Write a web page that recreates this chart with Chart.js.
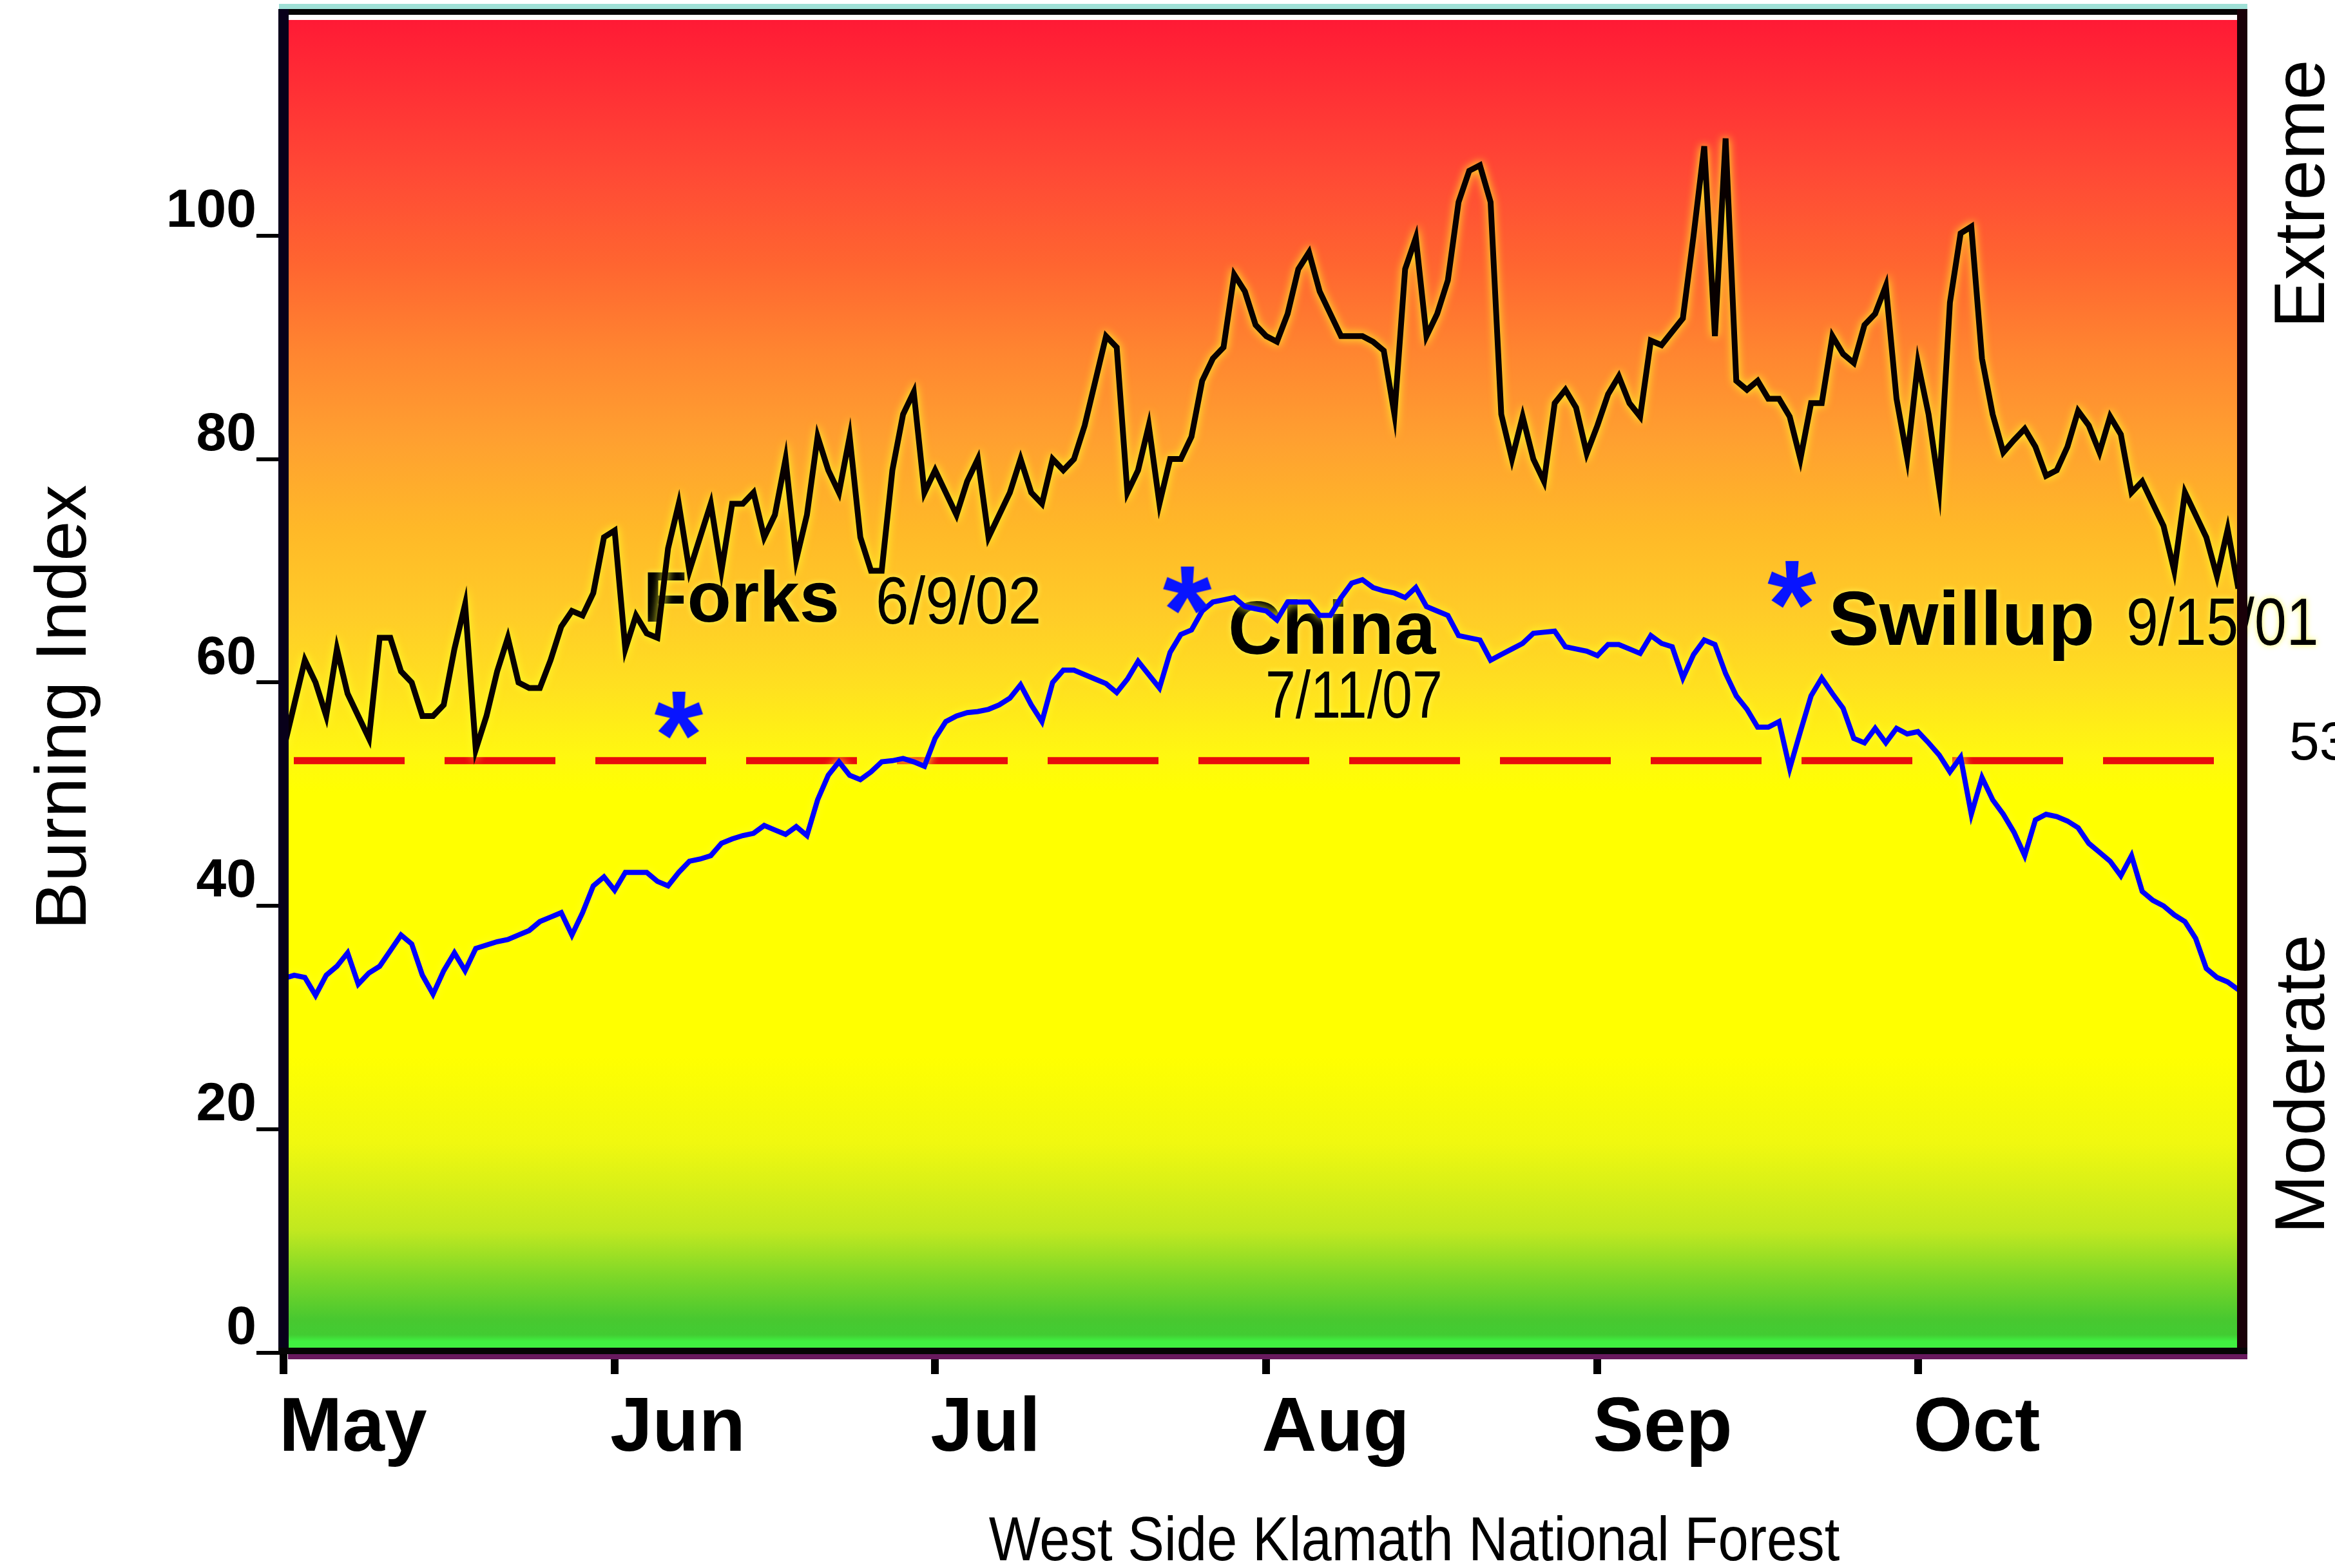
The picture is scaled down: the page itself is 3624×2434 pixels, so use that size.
<!DOCTYPE html>
<html>
<head>
<meta charset="utf-8">
<script src="https://cdn.jsdelivr.net/npm/chart.js@4.4.1/dist/chart.umd.min.js"></script>
<style>
html, body { margin: 0; padding: 0; background: #fff; }
#wrap { width: 3624px; height: 2434px; }
</style>
</head>
<body>
<div id="wrap"><canvas id="bi-chart" width="3624" height="2434"></canvas></div>
<script>
// days counted from May 1 (day 0) to Oct 31 (day 183)
const monthStarts = [0, 31, 61, 92, 123, 153];
const monthLabels = ['May', 'Jun', 'Jul', 'Aug', 'Sep', 'Oct'];
const yTicks = [0, 20, 40, 60, 80, 100];

// burning index of the worst years (black) and the average (blue), one value per day
const worstBI = [
    54, 58, 62, 60, 57, 63, 59, 57, 55, 64,
    64, 61, 60, 57, 57, 58, 63, 67, 54, 57,
    61, 64, 60, 59.5, 59.5, 62, 65, 66.4, 66, 68,
    73, 73.6, 63, 66, 64.4, 64, 72, 76, 70, 73,
    76, 70, 76, 76, 77, 73, 75, 80, 71, 75,
    82, 79, 77, 82, 73, 70, 70, 79, 84, 86,
    77, 79, 77, 75, 78, 80, 73, 75, 77, 80,
    77, 76, 80, 79, 80, 83, 87, 91, 90, 77,
    79, 83, 76, 80, 80, 82, 87, 89, 90, 96.5,
    95, 92, 91, 90.5, 93, 97, 98.5, 95, 93, 91,
    91, 91, 90.5, 89.7, 84, 97, 99.8, 91, 93, 96,
    103, 105.8, 106.3, 103, 84, 80, 83.8, 80, 78, 85,
    86.2, 84.6, 80.5, 83, 85.8, 87.4, 85, 83.8, 90.6, 90.2,
    91.4, 92.6, 100, 108, 91, 108.7, 87, 86.2, 87, 85.4,
    85.4, 83.8, 80, 85, 85, 91, 89.4, 88.6, 92, 93,
    95.5, 85.4, 80.1, 88.6, 84, 77.4, 94, 100.2, 100.8, 89,
    84, 80.6, 81.7, 82.7, 81.1, 78.5, 79, 81.1, 84.3, 83,
    80.6, 83.8, 82.2, 77, 78, 76, 74, 70, 77, 75,
    73, 69.5, 73.7, 68.4
];
const averageBI = [
    33.5, 33.8, 33.6, 32, 33.8, 34.6, 35.8, 33, 34, 34.6,
    36, 37.4, 36.6, 33.8, 32.1, 34.2, 35.8, 34.2, 36.2, 36.5,
    36.8, 37, 37.4, 37.8, 38.6, 39, 39.4, 37.4, 39.4, 41.8,
    42.6, 41.4, 43, 43, 43, 42.2, 41.8, 43, 44, 44.2,
    44.5, 45.6, 46, 46.3, 46.5, 47.2, 46.8, 46.4, 47.1, 46.3,
    49.5, 51.7, 52.9, 51.7, 51.3, 52, 52.9, 53, 53.2, 52.9,
    52.5, 55, 56.5, 57, 57.3, 57.4, 57.6, 58, 58.6, 59.8,
    58, 56.5, 60, 61.1, 61.1, 60.7, 60.3, 59.9, 59.1, 60.3,
    61.9, 60.7, 59.5, 62.7, 64.3, 64.7, 66.4, 67.2, 67.4, 67.6,
    66.8, 66.6, 66.4, 65.6, 67.2, 67.2, 67.2, 66, 66, 67.6,
    68.9, 69.2, 68.5, 68.2, 68, 67.6, 68.5, 66.8, 66.4, 66,
    64.2, 64, 63.8, 62, 62.5, 63, 63.5, 64.4, 64.5, 64.6,
    63.2, 63, 62.8, 62.4, 63.4, 63.4, 63, 62.6, 64.2, 63.5,
    63.2, 60.4, 62.5, 63.8, 63.4, 60.8, 58.8, 57.6, 56, 56,
    56.5, 52.3, 55.6, 58.8, 60.4, 59, 57.7, 55, 54.6, 55.9,
    54.6, 55.9, 55.4, 55.6, 54.6, 53.5, 52, 53.3, 48.2, 51.5,
    49.5, 48.2, 46.6, 44.5, 47.7, 48.2, 48, 47.6, 47, 45.6,
    44.8, 44, 42.7, 44.5, 41.3, 40.5, 40, 39.2, 38.6, 37.1,
    34.4, 33.6, 33.2, 32.5
];
const thresholdBI = 53;

// fires marked with a star
const fireNames = ['Forks', 'China', 'Swillup'];
const fireDates = ['6/9/02', '7/11/07', '9/15/01'];
const fireDays = [37, 84.6, 141.2];
const fireBI = [57.1, 68.3, 68.8];

const FONT = '"Liberation Sans", Arial, sans-serif';
Chart.defaults.font.family = FONT;

// text placement (pixels): name, date
const noteLayout = [
    { nx: 998, ny: 965, nsize: 112, dx: 1359, dy: 968, dsize: 104, dsx: 0.89 },
    { nx: 1906, ny: 1015, nsize: 116, dx: 1964, dy: 1114, dsize: 104, dsx: 0.81 },
    { nx: 2838, ny: 1001, nsize: 118, dx: 3300, dy: 1001, dsize: 104, dsx: 0.86 }
];

const bgStops = [
    [21, '#ff1a35'], [273, '#ff4a35'], [410, '#ff6530'], [546, '#ff8530'],
    [683, '#ffa030'], [819, '#ffb828'], [955, '#ffcc28'], [1065, '#ffe020'],
    [1174, '#fff810'], [1229, '#ffff00'], [1638, '#ffff00'], [1775, '#f0f810'],
    [1911, '#c0e820'], [1979, '#80d828'], [2048, '#48c830'], [2072, '#42cc32'],
    [2082, '#40f040'], [2100, '#40f040']
];

function makeStar() {
    const c = document.createElement('canvas');
    c.width = 100; c.height = 100;
    const g = c.getContext('2d');
    g.fillStyle = '#0814ff';
    g.font = 'bold 195px ' + FONT;
    const m = g.measureText('*');
    const w = m.actualBoundingBoxLeft + m.actualBoundingBoxRight;
    const h = m.actualBoundingBoxAscent + m.actualBoundingBoxDescent;
    g.fillText('*', 50 - w / 2 + m.actualBoundingBoxLeft, 50 - h / 2 + m.actualBoundingBoxAscent);
    return c;
}

function drawText(ctx, text, x, y, font, sx, align) {
    ctx.save();
    ctx.translate(x, y);
    ctx.scale(sx || 1, 1);
    ctx.font = font;
    ctx.textAlign = align || 'left';
    ctx.textBaseline = 'alphabetic';
    ctx.fillText(text, 0, 0);
    ctx.restore();
}

function drawVertical(ctx, text, x, y, font) {
    ctx.save();
    ctx.translate(x, y);
    ctx.rotate(-Math.PI / 2);
    ctx.font = font;
    ctx.textAlign = 'center';
    ctx.textBaseline = 'alphabetic';
    ctx.fillText(text, 0, 0);
    ctx.restore();
}

const backdrop = {
    id: 'backdrop',
    beforeDraw(chart) {
        const { ctx, chartArea: a } = chart;
        ctx.save();
        ctx.fillStyle = '#fff';
        ctx.fillRect(0, 0, chart.width, chart.height);
        const g = ctx.createLinearGradient(0, a.top, 0, a.bottom);
        bgStops.forEach(([y, c]) => {
            g.addColorStop(Math.min(1, Math.max(0, (y - a.top) / (a.bottom - a.top))), c);
        });
        ctx.fillStyle = g;
        ctx.fillRect(a.left, a.top, a.right - a.left, a.bottom - a.top);
        ctx.restore();
    },
    beforeDatasetsDraw(chart) {
        const ctx = chart.ctx;
        ctx.save();
        ctx.fillStyle = '#000';
        ctx.shadowColor = 'rgba(255,255,90,0.95)';
        ctx.shadowBlur = 10;
        fireNames.forEach((name, i) => {
            const l = noteLayout[i];
            drawText(ctx, name, l.nx, l.ny, 'bold ' + l.nsize + 'px ' + FONT, 1);
            drawText(ctx, fireDates[i], l.dx, l.dy, l.dsize + 'px ' + FONT, l.dsx);
        });
        ctx.restore();
    },
    beforeDatasetDraw(chart, args) {
        if (args.index === 1 || args.index === 2) {
            chart.ctx.save();
            chart.ctx.shadowColor = 'rgba(255,255,40,1)';
            chart.ctx.shadowBlur = 14;
        }
    },
    afterDatasetDraw(chart, args) {
        if (args.index === 1 || args.index === 2) chart.ctx.restore();
    },
    afterDraw(chart) {
        const ctx = chart.ctx;
        ctx.save();
        // frame
        ctx.fillStyle = '#9fe0d6';
        ctx.fillRect(433, 6, 3055, 8);
        ctx.fillStyle = '#050505';
        ctx.fillRect(433, 14, 3055, 9);
        ctx.fillStyle = '#08001a';
        ctx.fillRect(432, 14, 16, 2088);
        ctx.fillStyle = '#1a0008';
        ctx.fillRect(3472, 14, 16, 2088);
        ctx.fillStyle = '#050505';
        ctx.fillRect(432, 2092, 3056, 10);
        ctx.fillStyle = '#681a5e';
        ctx.fillRect(447, 2102, 3041, 8);

        ctx.fillStyle = '#000';
        drawVertical(ctx, 'Burning Index', 133, 1098, '112px ' + FONT);
        drawVertical(ctx, 'Extreme', 3607, 301, '112px ' + FONT);
        drawVertical(ctx, 'Moderate', 3607, 1683, '110px ' + FONT);
        drawText(ctx, String(thresholdBI), 3553, 1179, '84px ' + FONT, 1);
        drawText(ctx, 'West Side Klamath National Forest', 2195, 2422, '96px ' + FONT, 0.885, 'center');
        ctx.restore();
    }
};

const starImg = makeStar();

new Chart(document.getElementById('bi-chart'), {
    type: 'line',
    data: {
        datasets: [{
            label: 'Fires',
            data: fireDays.map((d, i) => ({ x: d, y: fireBI[i] })),
            showLine: false,
            pointStyle: starImg,
            pointRadius: 30
        }, {
            label: 'Worst years',
            data: worstBI.map((v, i) => ({ x: i, y: v })),
            borderColor: '#080000',
            borderWidth: 9,
            pointRadius: 0,
            tension: 0
        }, {
            label: 'Average',
            data: averageBI.map((v, i) => ({ x: i, y: v })),
            borderColor: '#0000ff',
            borderWidth: 8,
            pointRadius: 0,
            tension: 0
        }, {
            label: 'Threshold',
            data: [{ x: 0, y: thresholdBI }, { x: 183, y: thresholdBI }],
            borderColor: '#e80c0c',
            borderWidth: 11,
            borderDash: [172, 62],
            borderDashOffset: 218,
            pointRadius: 0
        }]
    },
    options: {
        responsive: false,
        animation: false,
        devicePixelRatio: 1,
        events: [],
        layout: { padding: { left: 0, right: 150, top: 21, bottom: 0 } },
        plugins: {
            legend: { display: false },
            tooltip: { enabled: false }
        },
        scales: {
            x: {
                type: 'linear',
                min: 0,
                max: 183,
                afterFit: (s) => { s.height = 334; },
                afterBuildTicks: (s) => { s.ticks = monthStarts.map(v => ({ value: v })); },
                ticks: {
                    autoSkip: false,
                    maxRotation: 0,
                    align: 'start',
                    labelOffset: -7,
                    padding: 16,
                    color: '#000',
                    font: { size: 118, weight: 'bold' },
                    callback: (v, i) => monthLabels[i]
                },
                grid: { drawOnChartArea: false, tickLength: 33, lineWidth: 12, color: '#000' },
                border: { display: false }
            },
            y: {
                min: 0,
                max: 119.3,
                afterFit: (s) => { s.width = 440; },
                afterBuildTicks: (s) => { s.ticks = yTicks.map(v => ({ value: v })); },
                ticks: {
                    padding: 0,
                    labelOffset: -37,
                    color: '#000',
                    font: { size: 84, weight: 'bold', lineHeight: 0.2 }
                },
                grid: { drawOnChartArea: false, tickLength: 42, lineWidth: 6, color: '#000' },
                border: { display: false }
            }
        }
    },
    plugins: [backdrop]
});
</script>
</body>
</html>
